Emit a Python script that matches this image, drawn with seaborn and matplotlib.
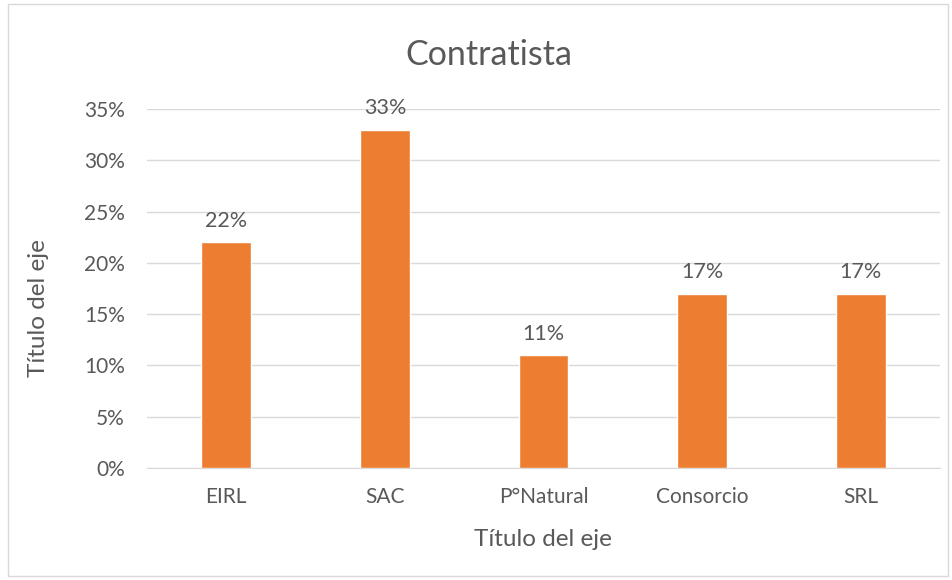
import matplotlib
matplotlib.use("Agg")
import matplotlib.pyplot as plt
import seaborn as sns
import pandas as pd
from matplotlib.patches import Rectangle

categories = ["EIRL", "SAC", "P°Natural", "Consorcio", "SRL"]
values = [0.22, 0.33, 0.11, 0.17, 0.17]
labels = ["22%", "33%", "11%", "17%", "17%"]
yticks = [0, 0.05, 0.10, 0.15, 0.20, 0.25, 0.30, 0.35]
ytick_labels = ["0%", "5%", "10%", "15%", "20%", "25%", "30%", "35%"]

sns.set_style("white")
plt.rcParams['font.family'] = ['Lato', 'DejaVu Sans']

df = pd.DataFrame({"cat": categories, "val": values})
grey = "#595959"

fig = plt.figure(figsize=(9.53, 5.8), dpi=100)
ax_h = 468 - 109
ax_w = 940 - 147
ax = fig.add_axes([147/953, 1-468/580, ax_w/953, ax_h/580])
sns.barplot(data=df, x="cat", y="val", color="#ED7D31", width=0.315,
            saturation=1, ax=ax, zorder=3)

ax.set_ylim(0, 0.35)
ax.set_yticks(yticks)
ax.set_yticklabels(ytick_labels)
ax.yaxis.grid(True, color="#D9D9D9", linewidth=1, zorder=0)
ax.set_axisbelow(True)
for s in ["left", "right", "top"]:
    ax.spines[s].set_visible(False)
ax.spines["bottom"].set_color("#D9D9D9")
ax.tick_params(axis="both", length=0, colors=grey, labelsize=15)
ax.tick_params(axis="x", pad=14)
ax.tick_params(axis="y", pad=16)

for i, (v, l) in enumerate(zip(values, labels)):
    ax.text(i, v + 0.011, l, ha="center", va="bottom", fontsize=15.5, color=grey)

ax.set_xlabel("Título del eje", fontsize=17.5, color=grey, va="center")
ax.set_ylabel("Título del eje", fontsize=17.5, color=grey, va="center")
ax.xaxis.set_label_coords((543-147)/ax_w, (468-540)/ax_h)
ax.yaxis.set_label_coords((38-147)/ax_w, (468-308)/ax_h)
fig.text(489/953, 1-55/580, "Contratista", ha="center", va="center",
         fontsize=24.5, color=grey)

fig.patches.append(Rectangle((8/953, 4/580), 940/953, 572/580, transform=fig.transFigure,
                             fill=False, edgecolor="#D9D9D9", linewidth=1))

fig.savefig("out.png", dpi=100)
